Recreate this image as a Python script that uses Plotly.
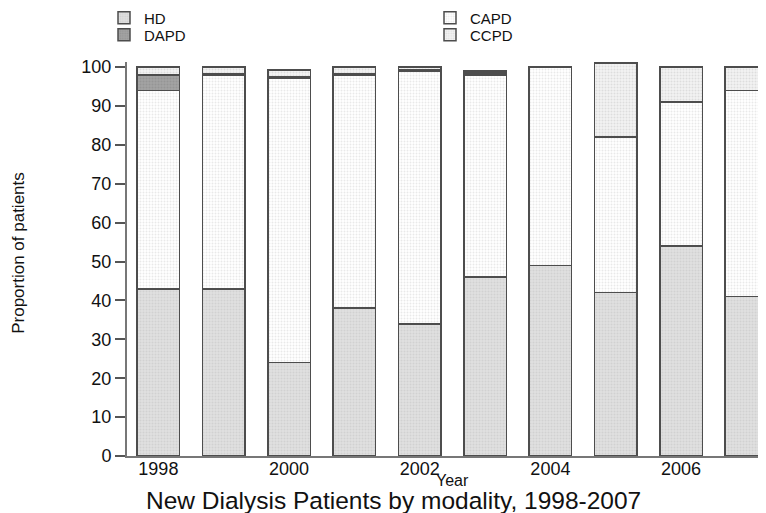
import plotly.graph_objects as go

years = [1998, 1999, 2000, 2001, 2002, 2003, 2004, 2005, 2006, 2007]
hd = [43, 43, 24, 38, 34, 46, 49, 42, 54, 41]
capd = [51, 55, 73, 60, 65, 52, 51, 40, 37, 53]
dapd = [4, 0.4, 0.5, 0.4, 0.4, 0.5, 0, 0, 0, 0]
ccpd = [2, 1.6, 1.7, 1.6, 0.6, 0.5, 0, 19, 9, 6]
tick_years = [1998, 2000, 2002, 2004, 2006]

# The page body has an 8px margin, so layout positions are given in
# screen pixels and shifted by OFF.
OFF = 8
W, H = 766, 513

# (name, values, background, dot colour, legend id, legend left px, legend row centre px)
series = [
    ("HD", hd, "#e0e0e0", "#c2c2c2", "legend", 104, 18),
    ("CAPD", capd, "#ffffff", "#d4d4d4", "legend2", 430, 18),
    ("DAPD", dapd, "#a2a2a2", "#888888", "legend3", 104, 35),
    ("CCPD", ccpd, "#f2f2f2", "#c8c8c8", "legend4", 430, 35),
]

fig = go.Figure()
legends = {}
for name, vals, bg, fg, lg, lx, ly in series:
    fig.add_trace(go.Bar(
        x=years, y=vals, name=name, legend=lg,
        marker=dict(
            color=bg,
            line=dict(color="#4d4d4d", width=1.5),
            pattern=dict(shape=".", fgcolor=fg, bgcolor=bg, size=3, solidity=0.35),
        ),
    ))
    legends[lg] = dict(x=(lx - OFF) / W, y=1 - (ly - OFF) / H,
                       xref="container", yref="container",
                       xanchor="left", yanchor="middle", font=dict(size=15),
                       bgcolor="rgba(0,0,0,0)", itemwidth=30)

font = "Liberation Sans, Arial, sans-serif"
fig.update_layout(
    width=W, height=H,
    margin=dict(l=127 - OFF, r=OFF, t=62 - OFF, b=H - (456 - OFF), autoexpand=False),
    barmode="stack", bargap=0.35,
    plot_bgcolor="white", paper_bgcolor="white",
    font=dict(family=font, size=17, color="#111"),
    showlegend=True,
    **legends,
    xaxis=dict(range=[1997.52, 2007.3], tickvals=tick_years,
               ticktext=[str(y) for y in tick_years],
               showline=True, linecolor="#777", linewidth=2,
               ticks="", showgrid=False, zeroline=False, automargin=False,
               tickfont=dict(size=18), ticklabelstandoff=-5),
    yaxis=dict(range=[0, 101.3], tickvals=list(range(0, 101, 10)),
               showline=True, linecolor="#777", linewidth=2,
               ticks="outside", ticklen=10, tickcolor="#555", tickwidth=1.5,
               showgrid=False, zeroline=False, automargin=False,
               tickfont=dict(size=18)),
    annotations=[
        dict(text="Year", xref="paper", yref="paper", x=0.51, y=-0.062,
             showarrow=False, font=dict(size=16), xanchor="center", yanchor="middle"),
        dict(text="Proportion of patients", xref="paper", yref="paper",
             x=-0.171, y=0.515, textangle=-90, showarrow=False,
             font=dict(size=17), xanchor="center", yanchor="middle"),
        dict(text="New Dialysis Patients by modality, 1998-2007", xref="paper", yref="paper",
             x=0.417, y=-0.114, showarrow=False, font=dict(size=24.5),
             xanchor="center", yanchor="middle"),
    ],
)

fig.write_html("out.html")
